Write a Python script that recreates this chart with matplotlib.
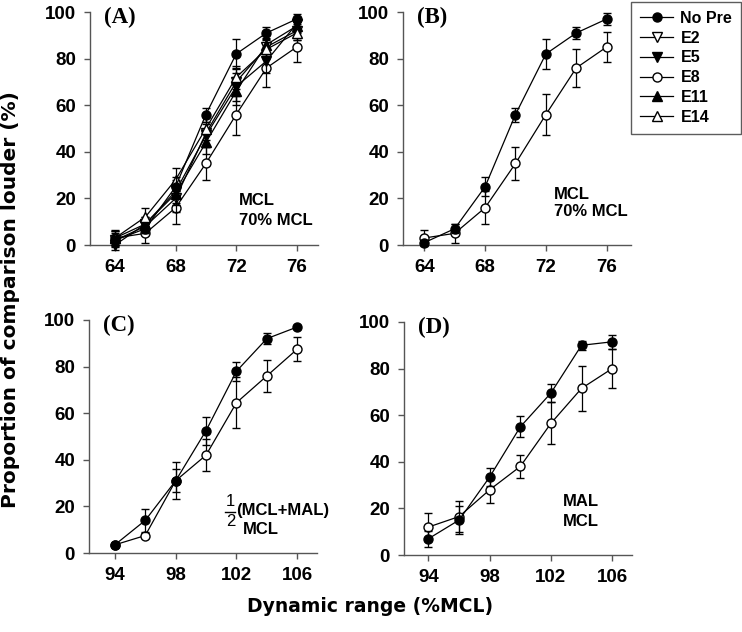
import matplotlib
matplotlib.use("Agg")
import matplotlib.pyplot as plt
from matplotlib.lines import Line2D

plt.rcParams['font.family'] = ['Liberation Sans', 'DejaVu Sans']

# ---------------- data ----------------
x_top = [64, 66, 68, 70, 72, 74, 76]
x_bot = [94, 96, 98, 100, 102, 104, 106]

series_names = ["No Pre", "E2", "E5", "E8", "E11", "E14"]

# Panel A (all series)
a_nopre = [2, 7, 25, 56, 82, 91, 97]
a_nopre_err = [2, 2, 4, 3, 6.5, 2.5, 2]
a_e2 = [2, 8, 20, 48, 70, 85, 92]
a_e2_err = [3, 3, 6, 5, 6, 4, 4]
a_e5 = [0, 9, 23, 47, 68, 79, 95]
a_e5_err = [2, 3, 5, 5, 6, 5, 3]
a_e8 = [3, 5, 16, 35, 56, 76, 85]
a_e8_err = [3.5, 4, 7, 7, 9, 8, 6.5]
a_e11 = [3, 9, 22, 44, 66, 86, 94]
a_e11_err = [3, 3, 5, 5, 6, 4, 3]
a_e14 = [3, 12, 28, 50, 72, 84, 91]
a_e14_err = [3, 4, 5, 5, 5, 4, 3]

# Panel B
b_nopre = [1, 7, 25, 56, 82, 91, 97]
b_nopre_err = [1, 2, 4, 3, 6.5, 2.5, 2.5]
b_e8 = [3, 5, 16, 35, 56, 76, 85]
b_e8_err = [3.5, 4, 7, 7, 9, 8, 6.5]

# Panel C
c_nopre = [3.5, 14, 31, 52.5, 78, 92, 97]
c_nopre_err = [1, 5, 5, 6, 4, 2.5, 1]
c_e8 = [3.5, 7.5, 31, 42, 64.5, 76, 87.5]
c_e8_err = [1, 1, 8, 7, 11, 7, 5]

# Panel D
d_nopre = [7, 15, 33.5, 55, 69.5, 90, 91.5]
d_nopre_err = [3.5, 6, 4, 4.5, 4, 2, 3]
d_e8 = [12, 16.5, 28, 38, 56.5, 71.5, 80]
d_e8_err = [6, 6.5, 5.5, 5, 9, 9.5, 8.5]

top_ticks = [64, 68, 72, 76]
bot_ticks = [94, 98, 102, 106]
y_ticks = [0, 20, 40, 60, 80, 100]

# ---------------- styles ----------------
MS = 6.5
styles = {
    "No Pre": dict(marker='o', mfc='black', mec='black'),
    "E2": dict(marker='v', mfc='white', mec='black'),
    "E5": dict(marker='v', mfc='black', mec='black'),
    "E8": dict(marker='o', mfc='white', mec='black'),
    "E11": dict(marker='^', mfc='black', mec='black'),
    "E14": dict(marker='^', mfc='white', mec='black'),
}

W, H = 742, 632
fig = plt.figure(figsize=(W / 100, H / 100), dpi=100)


def axes_px(left, top, right, bottom):
    return fig.add_axes([left / W, 1 - bottom / H, (right - left) / W, (bottom - top) / H])


def plot_series(ax, x, y, err, name, z):
    st = styles[name]
    ax.errorbar(x, y, yerr=err, color='black', lw=0.9, elinewidth=0.9,
                capsize=3, capthick=0.9, marker=st['marker'], ms=MS,
                mfc=st['mfc'], mec=st['mec'], mew=1.0, clip_on=False, zorder=z)


def style_axes(ax, xticks, xlim):
    ax.set_xlim(*xlim)
    ax.set_ylim(0, 100)
    ax.set_xticks(xticks)
    ax.set_yticks(y_ticks)
    for s in ['top', 'right']:
        ax.spines[s].set_visible(False)
    for s in ['left', 'bottom']:
        ax.spines[s].set_color('#555555')
        ax.spines[s].set_linewidth(1.0)
    ax.tick_params(direction='out', length=4, width=1.0, color='#555555',
                   labelsize=13.5, pad=6)
    for lab in ax.get_xticklabels() + ax.get_yticklabels():
        lab.set_fontweight('bold')


axA = axes_px(90, 12, 318, 245)
axB = axes_px(403, 12, 631, 245)
axC = axes_px(89, 320, 317, 553)
axD = axes_px(404, 322, 632, 555)

for name, y, e, z in [("E8", a_e8, a_e8_err, 3), ("E2", a_e2, a_e2_err, 4),
                      ("E5", a_e5, a_e5_err, 5), ("E11", a_e11, a_e11_err, 6),
                      ("E14", a_e14, a_e14_err, 7), ("No Pre", a_nopre, a_nopre_err, 8)]:
    plot_series(axA, x_top, y, e, name, z)

plot_series(axB, x_top, b_e8, b_e8_err, "E8", 3)
plot_series(axB, x_top, b_nopre, b_nopre_err, "No Pre", 4)
plot_series(axC, x_bot, c_e8, c_e8_err, "E8", 3)
plot_series(axC, x_bot, c_nopre, c_nopre_err, "No Pre", 4)
plot_series(axD, x_bot, d_e8, d_e8_err, "E8", 3)
plot_series(axD, x_bot, d_nopre, d_nopre_err, "No Pre", 4)

style_axes(axA, top_ticks, (62.35, 77.4))
style_axes(axB, top_ticks, (62.6, 77.6))
style_axes(axC, bot_ticks, (92.3, 107.3))
style_axes(axD, bot_ticks, (92.4, 107.3))

# panel labels
for ax, lab in [(axA, "(A)"), (axB, "(B)"), (axC, "(C)"), (axD, "(D)")]:
    ax.text(0.06, 0.975, lab, transform=ax.transAxes, fontsize=16.5, fontweight='bold',
            family=['Liberation Serif', 'DejaVu Serif'], ha='left', va='center')


def ftext(px, py, s, size=12, weight='bold'):
    fig.text(px / W, 1 - py / H, s, fontsize=size, fontweight=weight, ha='left', va='center')


# annotations
ftext(239, 201, "MCL")
ftext(239, 220, "70% MCL")
ftext(554, 194, "MCL")
ftext(554, 212, "70% MCL")
ftext(563, 502, "MAL")
ftext(563, 522, "MCL")
ftext(226, 501, "1", size=12, weight='normal')
ftext(226, 522, "2", size=12, weight='normal')
fig.add_artist(Line2D([225 / W, 235 / W], [1 - 512 / H, 1 - 512 / H], color='black', lw=1.0))
ftext(236, 511, "(MCL+MAL)")
ftext(243, 530, "MCL")

# axis labels
fig.text(11 / W, 1 - 300 / H, "Proportion of comparison louder (%)", rotation=90,
         fontsize=14.5, fontweight='bold', family=['DejaVu Sans'],
         ha='center', va='center')
fig.text(370 / W, 1 - 607 / H, "Dynamic range (%MCL)", fontsize=13.5,
         fontweight='bold', family=['DejaVu Sans'], ha='center', va='center')

# legend
handles = []
for name in series_names:
    st = styles[name]
    handles.append(Line2D([0], [0], color='black', lw=0.9, marker=st['marker'],
                          ms=MS, mfc=st['mfc'], mec=st['mec']))
leg = fig.legend(handles, series_names, loc='upper right',
                 bbox_to_anchor=(741 / W, 1 - 2 / H), frameon=True, fancybox=False,
                 edgecolor='#333333', fontsize=11.5, handlelength=2.1,
                 labelspacing=0.3, borderpad=0.55, handletextpad=0.45,
                 borderaxespad=0)
leg.get_frame().set_linewidth(1.0)
for t in leg.get_texts():
    t.set_fontweight('bold')

fig.savefig("out.png", dpi=100)
